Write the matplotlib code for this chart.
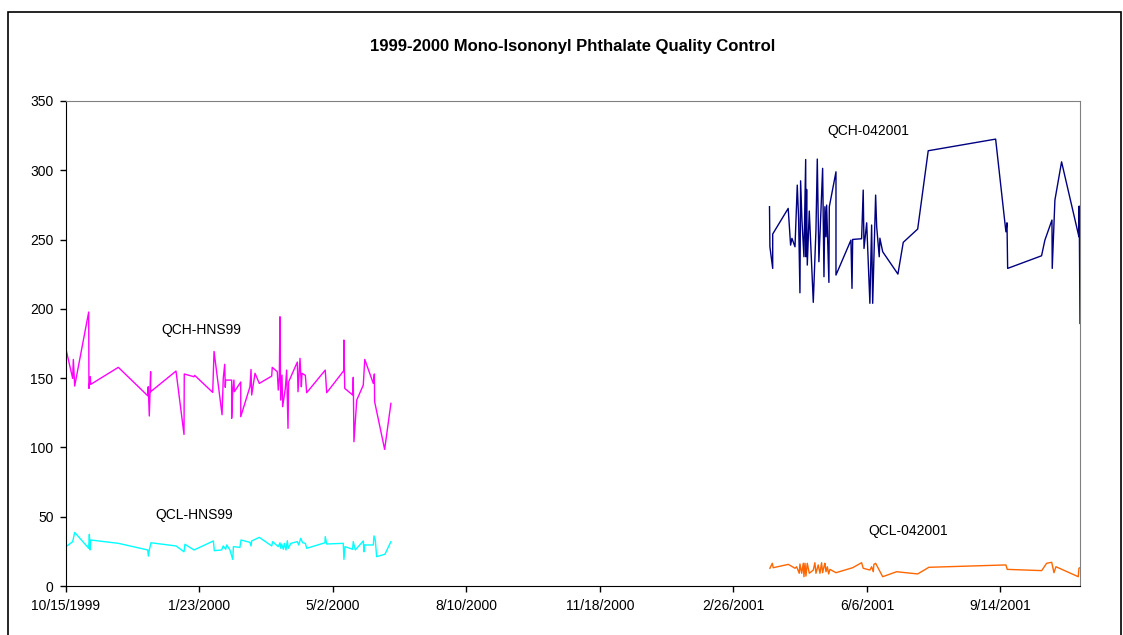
import pandas as pd
import matplotlib
matplotlib.use('Agg')
import matplotlib.pyplot as plt
from matplotlib.patches import Rectangle

plt.rcParams['font.family'] = ['Liberation Sans', 'DejaVu Sans']

base_date = pd.Timestamp('1999-10-15')

# days after 10/15/1999
qch_hns_days = [0, 5, 5.5, 6.5, 17, 17.2, 18.2, 18.5, 39.2, 61.2, 61.6, 62.4, 63.4, 63.4,
                82.4, 88.4, 88.6, 95.9, 96.4, 109.9, 110.9, 116.9, 117.8, 118.9, 119.3, 119.6,
                124.1, 124.1, 124.9, 125.8, 126.1, 130.9, 130.9, 137.8, 138.6, 139.1, 141.6, 144.8,
                154.1, 154.5, 158.3, 159, 159.8, 160.3, 160.8, 161.8, 162.3, 164.3, 165.3, 166.3,
                166.8, 173.3, 173.8, 175.3, 176.3, 176.8, 179.3, 180.3, 194.2, 195.3, 208, 208.2,
                208.8, 214.8, 215.2, 215.7, 217.8, 222.7, 223.8, 230.2, 231, 231.2, 238.7, 243.4]
qch_hns_vals = [170.8, 149.8, 163.5, 144.3, 197.7, 142.6, 151, 145.5, 157.8, 137.3, 143.8, 122.7,
                154.6, 140.2, 155.1, 109.4, 153, 151, 152, 139.7, 169.3, 123.6, 149.8, 160, 143.4,
                148.6, 148.6, 121, 140.7, 148.6, 140.2, 147.2, 122.2, 143.8, 156.3, 137.8, 153.5,
                146.2, 151.5, 157.8, 154.6, 141.4, 150.6, 194.3, 134.2, 152.2, 129.4, 142.6, 155.8,
                113.8, 147.4, 161.6, 140.2, 164.3, 143.8, 153.5, 152, 139.5, 155.8, 139.5, 155.3,
                177.5, 142.6, 137.8, 150.6, 104.1, 134.2, 145, 163.5, 146.2, 153, 133, 98.6, 131.8]

qcl_hns_days = [0, 5, 6.5, 17, 17.5, 18, 18.5, 39.2, 61.2, 61.7, 62.4, 63.7, 82.4, 88.4, 89.1,
                95.9, 110.4, 111.1, 116.6, 117.8, 119.6, 120.4, 122.8, 124.9, 125.4, 130.3, 131.1,
                137.8, 138.6, 139.1, 144.8, 154.1, 154.8, 159, 160.3, 160.8, 161.5, 162.8, 163.5,
                164.8, 165.8, 166.5, 168.5, 173.3, 174.3, 175.8, 177.3, 179.3, 180.3, 194, 194.2,
                195.3, 207.7, 208.2, 209, 214.7, 215.2, 216.7, 222.7, 223.2, 223.5, 230.2, 230.7,
                231.7, 232.7, 238.9, 243.4]
qcl_hns_vals = [28.4, 32.0, 38.7, 27.2, 37.3, 26.0, 33.2, 30.8, 26.0, 21.6, 26.0, 31.2, 28.9,
                24.7, 30.1, 26.0, 32.5, 25.5, 26.0, 28.9, 26.5, 29.6, 26.0, 19.2, 28.4, 27.9,
                33.2, 31.5, 28.9, 32.5, 35.1, 28.9, 32.0, 28.4, 31.2, 27.2, 30.3, 26.5, 30.8,
                26.0, 32.7, 27.2, 30.8, 32.0, 29.6, 34.4, 31.2, 30.8, 27.2, 31.2, 35.6, 30.3,
                30.8, 19.2, 28.4, 26.5, 32.0, 26.0, 32.5, 24.7, 29.6, 29.6, 36.1, 33.2, 21.2,
                22.9, 32.0]

qch_042_days = [527, 527.3, 529.4, 529.4, 541, 542.8, 543.8, 546.1, 547.8, 548.8, 549.8, 550.3,
                551.3, 552.8, 554.1, 554.3, 554.8, 555.3, 556.8, 559.8, 561.8, 562.8, 564, 566.8,
                567.8, 568.5, 569.3, 569.8, 571.5, 571.8, 576.8, 576.8, 588, 588.8, 589.3, 596,
                597.2, 597.8, 599.8, 602.2, 603.5, 604.3, 606.5, 607.3, 609.2, 609.7, 611.8, 623.2,
                627.2, 638, 645.9, 696.4, 704.1, 704.9, 705.4, 730.8, 733.3, 738.6, 738.8, 740.8,
                745.8, 758.8, 759, 759.6]
qch_042_vals = [273.7, 244.8, 229.2, 254, 272.5, 246, 250.9, 244.8, 289.3, 265.3, 211.6, 292.4,
                264.1, 237.6, 307.8, 237.6, 286.2, 231.6, 270.6, 204.7, 256.9, 308.1, 234, 301.4,
                223.2, 273.7, 252, 274.9, 219.1, 273.7, 298.9, 224.4, 249.6, 214.8, 250.1, 250.6,
                285.7, 243.6, 262.1, 204, 260.5, 204, 282.1, 259.2, 237.6, 251, 241.2, 225.1,
                248, 257.6, 314.1, 322.5, 255.6, 262.1, 229.2, 238.3, 249.6, 264.1, 229.2, 278.5,
                306.1, 252, 274.2, 189.5]

qcl_042_days = [527.3, 529.1, 529.8, 541.1, 546.1, 547.3, 549.3, 549.8, 551.1, 552.3,
                552.8, 553.6, 554.3, 555.3, 556.8, 559.8, 561.0, 561.8, 563.5, 564.8,
                566.0, 566.8, 567.8, 568.5, 569.3, 570.3, 571.3, 572.3, 576.8, 589.3,
                596.0, 597.2, 602.2, 603.5, 604.7, 605.2, 606.5, 611.8, 622.2, 638.0,
                646.4, 704.1, 705.1, 730.9, 734.6, 738.4, 740.1, 741.6, 758.3, 758.8, 759.6]
qcl_042_vals = [12.8, 16.4, 13.2, 15.6, 12.8, 13.9, 9.2, 15.9, 9.2, 16.4,
                6.7, 16.4, 7.2, 16.4, 9.2, 11.5, 16.8, 9.2, 15.2, 9.2,
                16.8, 9.6, 13.9, 16.4, 10.3, 13.9, 8.7, 12.0, 9.6, 13.2,
                16.8, 12.8, 11.5, 13.9, 10.3, 15.6, 16.4, 6.7, 10.3, 8.7,
                13.5, 15.2, 12.0, 11.1, 16.4, 17.1, 9.6, 13.9, 6.7, 12.8, 13.2]

series = [
    ('QCH-HNS99', qch_hns_days, qch_hns_vals, '#FF00FF', 101, 185),
    ('QCL-HNS99', qcl_hns_days, qcl_hns_vals, '#00FFFF', 96, 51),
    ('QCH-042001', qch_042_days, qch_042_vals, '#000080', 601, 328),
    ('QCL-042001', qcl_042_days, qcl_042_vals, '#FF6600', 631, 40),
]


def to_dates(days):
    return base_date + pd.to_timedelta(days, unit='D')


fig = plt.figure(figsize=(11.23, 6.35), dpi=100)
ax = fig.add_axes([66 / 1123, 1 - 586 / 635, (1080 - 66) / 1123, (586 - 101) / 635])

for name, days, vals, color, lx, ly in series:
    ax.plot(to_dates(days), vals, color=color, lw=1.0)
    ax.text(to_dates([lx])[0], ly, name, ha='center', va='center', fontsize=10, color='black')

ax.set_ylim(0, 350)
ax.set_yticks(range(0, 351, 50))
ax.set_xlim(base_date, to_dates([759.6])[0])
ticks = pd.date_range(base_date, periods=8, freq='100D')
ax.set_xticks(ticks)
ax.set_xticklabels([f'{d.month}/{d.day}/{d.year}' for d in ticks])
ax.tick_params(direction='out', length=4, width=1, labelsize=10, pad=5)

for side in ['top', 'right']:
    ax.spines[side].set_color('#808080')
for side in ['left', 'bottom']:
    ax.spines[side].set_color('black')

fig.text(573 / 1123, 1 - 46 / 635, '1999-2000 Mono-Isononyl Phthalate Quality Control',
         ha='center', va='center', fontsize=12, fontweight='bold')

# outer chart border
fig.patches.append(Rectangle((8 / 1123, -0.05), 1113 / 1123, 1.05 - 12 / 635,
                             transform=fig.transFigure, fill=False, edgecolor='black',
                             lw=1.2, clip_on=False))

fig.savefig('out.png', dpi=100)
